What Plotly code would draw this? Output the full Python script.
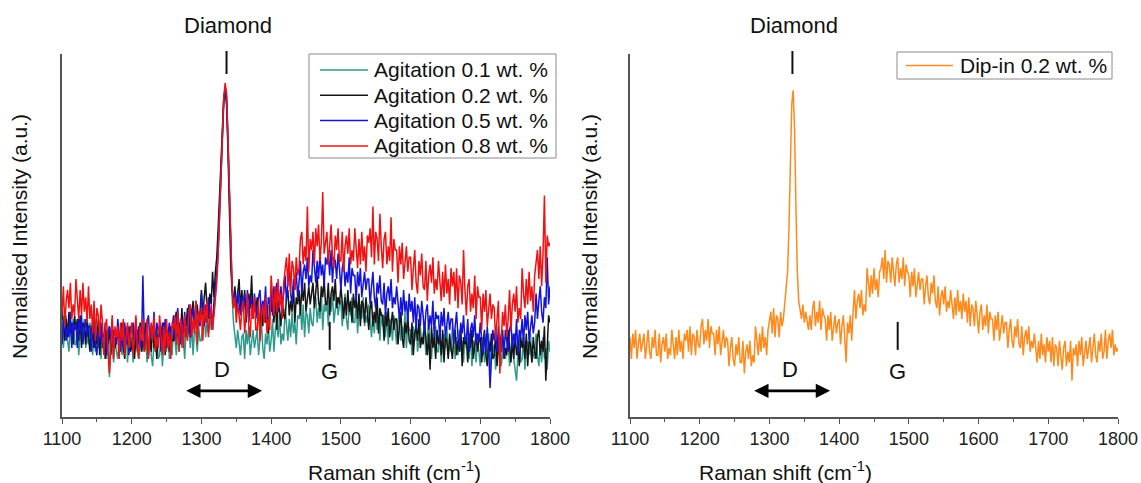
import plotly.graph_objects as go

# Raman shift grid (cm^-1), one reading every 2 cm^-1
wavenumber = list(range(1100, 1801, 2))

# Normalised intensities (a.u., 0-100 scale), films seeded by agitation
agit_01 = [
    26, 19, 24, 28, 21, 18, 25, 22, 27, 20,
    20, 26, 17, 23, 25, 21, 27, 19, 22, 20,
    26, 20, 17, 23, 18, 25, 19, 22, 16, 24,
    19, 22, 16, 23, 11, 21, 20, 15, 22, 18,
    16, 22, 24, 17, 21, 18, 25, 15, 22, 20,
    22, 15, 23, 19, 24, 16, 20, 23, 18, 21,
    22, 15, 20, 24, 17, 14, 21, 18, 23, 16,
    17, 23, 14, 20, 22, 18, 24, 16, 19, 17,
    26, 20, 17, 23, 18, 25, 19, 22, 16, 24,
    22, 25, 19, 26, 17, 24, 23, 18, 25, 21,
    21, 27, 29, 22, 26, 23, 30, 24, 27, 28,
    33, 38, 45, 55, 66, 77, 86, 91, 89, 78,
    62, 45, 33, 26, 22, 19, 24, 20, 17, 22,
    23, 16, 24, 20, 25, 17, 21, 24, 19, 22,
    24, 17, 22, 26, 19, 16, 23, 20, 25, 18,
    21, 27, 18, 24, 26, 22, 28, 20, 23, 21,
    30, 24, 21, 27, 22, 29, 23, 26, 20, 28,
    27, 30, 24, 31, 22, 29, 28, 23, 30, 26,
    25, 31, 33, 26, 30, 27, 34, 24, 31, 29,
    32, 25, 33, 29, 34, 26, 30, 33, 28, 31,
    32, 25, 30, 34, 27, 24, 31, 28, 33, 26,
    26, 32, 23, 29, 31, 27, 33, 25, 28, 26,
    31, 25, 22, 28, 23, 30, 24, 27, 21, 29,
    25, 28, 22, 29, 20, 27, 26, 21, 28, 24,
    20, 26, 28, 21, 25, 22, 29, 19, 26, 24,
    24, 17, 25, 21, 26, 18, 22, 25, 20, 23,
    24, 17, 22, 26, 19, 16, 23, 20, 25, 18,
    18, 24, 15, 21, 23, 19, 25, 17, 20, 18,
    25, 19, 16, 22, 17, 24, 18, 21, 15, 23,
    19, 22, 16, 23, 14, 21, 20, 15, 22, 18,
    14, 20, 22, 15, 19, 16, 23, 13, 20, 18,
    20, 13, 21, 17, 22, 14, 18, 21, 16, 19,
    21, 14, 19, 23, 16, 13, 10, 17, 22, 15,
    16, 22, 13, 19, 21, 17, 23, 15, 18, 16,
    23, 17, 14, 20, 15, 22, 16, 19, 13, 21,
    18,
]

agit_02 = [
    30, 24, 21, 27, 22, 29, 23, 26, 20, 28,
    24, 27, 21, 28, 19, 26, 25, 20, 27, 23,
    18, 24, 26, 19, 23, 20, 27, 17, 24, 22,
    23, 16, 24, 20, 25, 17, 21, 24, 19, 22,
    24, 17, 22, 26, 19, 16, 23, 20, 25, 18,
    19, 25, 16, 22, 24, 20, 26, 18, 21, 19,
    26, 20, 17, 23, 18, 25, 19, 22, 16, 24,
    22, 25, 19, 26, 17, 24, 23, 18, 25, 21,
    21, 27, 29, 22, 26, 23, 30, 20, 27, 25,
    30, 23, 31, 27, 32, 24, 28, 31, 26, 29,
    35, 28, 33, 37, 30, 27, 34, 31, 40, 33,
    40, 44, 52, 62, 73, 82, 88, 90, 86, 74,
    58, 42, 35, 31, 36, 29, 34, 38, 30, 35,
    29, 35, 26, 32, 34, 30, 39, 28, 31, 29,
    33, 27, 24, 30, 25, 32, 26, 29, 23, 31,
    29, 32, 26, 33, 24, 31, 30, 25, 32, 28,
    27, 33, 35, 28, 32, 29, 36, 26, 33, 31,
    35, 28, 36, 32, 37, 29, 33, 36, 31, 34,
    37, 30, 35, 39, 32, 29, 36, 33, 38, 31,
    31, 37, 28, 34, 36, 32, 38, 30, 33, 31,
    36, 30, 27, 33, 28, 35, 29, 32, 26, 34,
    30, 33, 27, 34, 25, 32, 31, 26, 33, 29,
    24, 30, 32, 25, 29, 26, 33, 23, 30, 28,
    28, 21, 29, 25, 30, 22, 26, 29, 24, 27,
    27, 20, 25, 29, 22, 19, 26, 23, 28, 21,
    20, 26, 17, 23, 25, 21, 27, 19, 22, 20,
    26, 20, 17, 23, 13, 25, 19, 22, 16, 24,
    20, 23, 17, 24, 15, 22, 21, 16, 23, 19,
    16, 22, 24, 17, 21, 18, 25, 14, 22, 20,
    22, 15, 23, 19, 24, 16, 20, 23, 18, 21,
    22, 15, 20, 24, 17, 14, 21, 18, 23, 16,
    17, 23, 14, 20, 22, 18, 24, 16, 19, 17,
    24, 18, 15, 21, 16, 23, 17, 20, 14, 22,
    19, 22, 16, 23, 14, 21, 20, 15, 22, 18,
    16, 22, 24, 17, 21, 18, 25, 10, 22, 28,
    26,
]

agit_05 = [
    20, 26, 28, 21, 25, 22, 29, 19, 26, 24,
    26, 19, 27, 23, 28, 20, 24, 27, 22, 25,
    25, 18, 23, 27, 20, 17, 24, 21, 26, 19,
    20, 26, 17, 23, 25, 21, 27, 19, 22, 20,
    27, 21, 18, 24, 19, 26, 20, 23, 17, 25,
    23, 26, 20, 27, 18, 25, 24, 19, 39, 22,
    20, 26, 28, 21, 25, 22, 29, 19, 26, 24,
    25, 18, 26, 22, 27, 19, 23, 26, 21, 24,
    28, 21, 26, 30, 23, 20, 27, 24, 29, 22,
    25, 31, 22, 28, 30, 26, 32, 24, 27, 25,
    34, 28, 25, 31, 26, 33, 27, 30, 24, 32,
    36, 40, 47, 57, 69, 79, 87, 91, 88, 76,
    60, 44, 36, 31, 34, 29, 35, 31, 28, 33,
    31, 34, 28, 35, 26, 33, 32, 27, 34, 30,
    27, 33, 35, 28, 32, 29, 36, 26, 33, 31,
    35, 28, 36, 32, 37, 29, 33, 36, 31, 34,
    39, 32, 37, 41, 34, 31, 38, 35, 40, 33,
    37, 43, 34, 40, 42, 38, 44, 36, 39, 37,
    46, 40, 37, 43, 38, 45, 39, 42, 36, 44,
    42, 45, 39, 46, 37, 44, 43, 38, 45, 41,
    35, 41, 43, 36, 40, 37, 44, 34, 41, 39,
    39, 32, 40, 36, 41, 33, 37, 40, 35, 38,
    38, 31, 36, 40, 33, 30, 37, 34, 39, 32,
    31, 37, 28, 34, 36, 32, 38, 30, 33, 31,
    36, 30, 27, 33, 28, 35, 29, 32, 26, 34,
    29, 32, 26, 33, 24, 31, 30, 25, 32, 28,
    23, 29, 31, 24, 28, 25, 32, 22, 29, 27,
    28, 21, 29, 25, 30, 22, 26, 29, 24, 27,
    27, 20, 25, 29, 22, 19, 26, 23, 28, 21,
    21, 27, 18, 24, 26, 22, 28, 20, 23, 21,
    26, 20, 17, 23, 18, 25, 19, 8, 16, 24,
    21, 24, 18, 25, 16, 23, 22, 17, 24, 20,
    18, 24, 26, 19, 23, 20, 27, 17, 24, 22,
    27, 20, 28, 24, 29, 21, 25, 28, 23, 26,
    34, 27, 32, 36, 29, 26, 33, 30, 44, 31,
    36,
]

agit_08 = [
    28, 36, 25, 32, 35, 30, 37, 27, 31, 28,
    38, 31, 27, 35, 28, 37, 29, 33, 26, 36,
    27, 31, 23, 32, 21, 30, 28, 22, 31, 26,
    17, 25, 27, 18, 12, 19, 28, 16, 25, 22,
    25, 16, 26, 21, 27, 17, 22, 26, 19, 23,
    26, 17, 23, 28, 19, 16, 25, 21, 27, 18,
    19, 27, 16, 23, 26, 21, 28, 18, 22, 19,
    28, 21, 17, 25, 18, 27, 19, 23, 16, 26,
    24, 28, 20, 29, 18, 27, 25, 19, 28, 23,
    21, 29, 31, 22, 27, 23, 32, 20, 29, 26,
    30, 21, 31, 26, 32, 22, 27, 31, 24, 28,
    32, 37, 45, 56, 68, 79, 88, 92, 89, 77,
    61, 45, 36, 30, 33, 26, 31, 28, 24, 30,
    32, 23, 29, 34, 25, 22, 31, 27, 33, 24,
    24, 32, 21, 28, 31, 26, 33, 23, 27, 24,
    39, 32, 28, 36, 29, 38, 30, 34, 27, 37,
    40, 44, 36, 45, 34, 43, 41, 35, 44, 39,
    41, 49, 51, 42, 47, 43, 58, 40, 49, 46,
    51, 42, 52, 47, 53, 43, 48, 62, 45, 49,
    51, 42, 48, 53, 44, 41, 50, 46, 52, 43,
    43, 51, 40, 47, 50, 45, 52, 42, 46, 43,
    52, 45, 41, 49, 42, 51, 43, 47, 40, 50,
    48, 52, 44, 58, 42, 51, 49, 43, 56, 47,
    41, 49, 51, 42, 47, 43, 55, 40, 49, 46,
    46, 37, 47, 42, 48, 38, 43, 47, 40, 44,
    44, 35, 41, 46, 37, 34, 43, 39, 45, 36,
    35, 43, 32, 39, 42, 37, 44, 34, 38, 35,
    43, 36, 32, 40, 33, 42, 34, 38, 31, 41,
    36, 40, 32, 41, 30, 39, 37, 31, 46, 35,
    28, 36, 38, 29, 34, 30, 39, 27, 36, 33,
    33, 24, 34, 29, 35, 25, 30, 34, 27, 31,
    30, 21, 27, 32, 12, 20, 29, 25, 31, 22,
    27, 35, 24, 31, 34, 29, 36, 26, 30, 27,
    41, 34, 30, 38, 31, 40, 32, 36, 29, 39,
    42, 46, 38, 47, 36, 45, 61, 37, 50, 47,
    48,
]

# Normalised intensity (a.u., 0-100 scale), film seeded by dip-in
dipin_02 = [
    22, 16, 23, 19, 24, 16, 20, 23, 18, 21,
    23, 16, 21, 24, 18, 16, 22, 19, 24, 17,
    17, 23, 15, 20, 22, 18, 23, 16, 19, 17,
    24, 19, 16, 22, 17, 24, 18, 21, 16, 23,
    21, 24, 18, 25, 17, 23, 22, 17, 24, 20,
    19, 25, 27, 20, 24, 21, 27, 19, 25, 23,
    23, 17, 24, 20, 25, 17, 21, 24, 19, 22,
    21, 14, 19, 22, 16, 14, 20, 17, 22, 15,
    15, 21, 12, 18, 20, 16, 21, 14, 17, 15,
    25, 20, 17, 23, 18, 25, 19, 22, 17, 24,
    26, 29, 23, 30, 22, 28, 27, 22, 29, 25,
    27, 31, 35, 40, 52, 70, 86, 90, 80, 58,
    40, 32, 30, 27, 31, 26, 29, 27, 24, 28,
    24, 30, 32, 25, 29, 26, 32, 24, 30, 28,
    27, 21, 28, 24, 29, 21, 25, 28, 23, 26,
    27, 20, 25, 28, 22, 15, 26, 23, 28, 21,
    29, 35, 27, 32, 34, 30, 35, 28, 31, 29,
    41, 36, 33, 39, 34, 41, 35, 38, 33, 40,
    41, 44, 38, 46, 37, 43, 42, 37, 44, 40,
    36, 42, 44, 37, 41, 38, 44, 36, 42, 40,
    39, 33, 40, 36, 41, 33, 37, 40, 35, 38,
    38, 31, 36, 39, 33, 31, 37, 34, 39, 32,
    30, 36, 28, 33, 35, 31, 36, 29, 32, 30,
    35, 30, 27, 33, 28, 35, 29, 32, 27, 34,
    29, 32, 26, 33, 25, 31, 30, 25, 32, 28,
    23, 29, 31, 24, 28, 25, 31, 23, 29, 27,
    27, 21, 28, 24, 29, 21, 25, 28, 23, 26,
    26, 19, 24, 27, 21, 19, 25, 22, 27, 20,
    19, 25, 17, 22, 24, 20, 25, 18, 21, 19,
    23, 18, 15, 21, 16, 23, 17, 20, 15, 22,
    18, 21, 15, 22, 14, 20, 19, 14, 21, 17,
    13, 19, 21, 14, 18, 15, 21, 10, 19, 17,
    20, 14, 21, 17, 22, 14, 18, 21, 16, 19,
    22, 15, 20, 23, 17, 15, 21, 18, 23, 16,
    18, 24, 16, 21, 23, 19, 24, 17, 20, 18,
    19,
]

agitation_series = [
    ("Agitation 0.1 wt. %", agit_01, "#2f9a8c"),
    ("Agitation 0.2 wt. %", agit_02, "#151515"),
    ("Agitation 0.5 wt. %", agit_05, "#1414d8"),
    ("Agitation 0.8 wt. %", agit_08, "#f01212"),
]
dipin_name = "Dip-in 0.2 wt. %"
dipin_color = "#ff8a1c"

x_ticks = list(range(1100, 1801, 100))
x_ticktext = [str(v) for v in x_ticks]

# Band positions (cm^-1) used for the labels
diamond_pos = 1336
g_band_pos = 1484
d_band_range = (1276, 1387)
d_label_pos = 1330

FONT = "Liberation Sans, Arial, Helvetica, sans-serif"
AXIS_COLOR = "#555555"
TEXT_COLOR = "#111111"
W, H = 1141, 483

fig = go.Figure()

for name, vals, color in agitation_series:
    fig.add_trace(go.Scatter(
        x=wavenumber[:len(vals)], y=vals, mode="lines", name=name,
        line=dict(color=color, width=1.5), xaxis="x", yaxis="y",
    ))

fig.add_trace(go.Scatter(
    x=wavenumber[:len(dipin_02)], y=dipin_02, mode="lines", name=dipin_name,
    line=dict(color=dipin_color, width=1.5), xaxis="x2", yaxis="y2",
))

y_dom = [66 / H, 429 / H]


def x_axis(domain, anchor):
    return dict(
        domain=domain, anchor=anchor, range=[1100, 1800], automargin=False,
        tickmode="array", tickvals=x_ticks, ticktext=x_ticktext,
        showline=True, linecolor=AXIS_COLOR, linewidth=1.5,
        ticks="outside", ticklen=5, tickwidth=1.2, tickcolor=AXIS_COLOR,
        minor=dict(tickmode="linear", tick0=1100, dtick=50, ticks="outside",
                   ticklen=3, tickwidth=1.2, tickcolor=AXIS_COLOR, showgrid=False),
        showgrid=False, zeroline=False,
        tickfont=dict(family=FONT, size=18, color="#222222"),
    )


def y_axis(anchor):
    return dict(
        domain=y_dom, anchor=anchor, range=[0, 100], automargin=False,
        showline=True, linecolor=AXIS_COLOR, linewidth=1.5,
        showticklabels=False, ticks="", showgrid=False, zeroline=False,
    )


fig.update_layout(
    width=W, height=H,
    margin=dict(l=0, r=0, t=0, b=0),
    paper_bgcolor="white", plot_bgcolor="white",
    xaxis=x_axis([62 / W, 550 / W], "y"),
    yaxis=y_axis("x"),
    xaxis2=x_axis([630 / W, 1118 / W], "y2"),
    yaxis2=y_axis("x2"),
    showlegend=False,
)

label_font = dict(family=FONT, size=22, color=TEXT_COLOR)
title_font = dict(family=FONT, size=21, color=TEXT_COLOR)
legend_font = dict(family=FONT, size=21, color=TEXT_COLOR)


def px_x(p):
    return p / W


def px_y(p):
    return 1 - p / H


shapes = []
annotations = []

# Band labels and axis titles for both panels
for xref, yref, diamond_x, x_center in (("x", "y", diamond_pos, 306),
                                        ("x2", "y2", diamond_pos - 3, 874)):
    shapes.append(dict(type="line", xref=xref, yref="paper",
                       x0=diamond_x, x1=diamond_x, y0=px_y(74), y1=px_y(51),
                       line=dict(color=TEXT_COLOR, width=2)))
    annotations.append(dict(text="Diamond", xref=xref, yref="paper",
                            x=diamond_x + 2, y=px_y(25), yanchor="middle",
                            showarrow=False, font=label_font))
    shapes.append(dict(type="line", xref=xref, yref=yref,
                       x0=g_band_pos, x1=g_band_pos, y0=18.5, y1=26.2,
                       line=dict(color=TEXT_COLOR, width=2)))
    annotations.append(dict(text="G", xref=xref, yref=yref, x=g_band_pos, y=12.5,
                            yanchor="middle", showarrow=False, font=label_font))
    annotations.append(dict(text="D", xref=xref, yref=yref, x=d_label_pos, y=13.0,
                            yanchor="middle", showarrow=False, font=label_font))
    annotations.append(dict(text="", xref=xref, yref=yref,
                            x=d_band_range[1], y=7.2,
                            axref=xref, ayref=yref, ax=d_band_range[0], ay=7.2,
                            showarrow=True, arrowside="end+start", arrowhead=2,
                            arrowsize=1.1, arrowwidth=2.6, arrowcolor="#000000",
                            standoff=0, startstandoff=0))
    annotations.append(dict(text="Raman shift (cm<sup>-1</sup>)", xref="paper", yref="paper",
                            x=px_x(x_center), y=px_y(471), yanchor="middle",
                            showarrow=False, font=title_font))

for x_px in (20, 590):
    annotations.append(dict(text="Normalised Intensity (a.u.)", xref="paper", yref="paper",
                            x=px_x(x_px), y=px_y(237), xanchor="center", yanchor="middle",
                            textangle=-90, showarrow=False, font=title_font))

# Legend boxes
shapes.append(dict(type="rect", xref="paper", yref="paper",
                   x0=px_x(309), x1=px_x(556), y0=px_y(158), y1=px_y(54),
                   line=dict(color="#8a8a8a", width=1), fillcolor="white", layer="above"))
for i, (name, _, color) in enumerate(agitation_series):
    row_y = 70 + 25.3 * i
    shapes.append(dict(type="line", xref="paper", yref="paper",
                       x0=px_x(320), x1=px_x(368), y0=px_y(row_y), y1=px_y(row_y),
                       line=dict(color=color, width=1.5), layer="above"))
    annotations.append(dict(text=name, xref="paper", yref="paper",
                            x=px_x(372), y=px_y(row_y), xanchor="left", yanchor="middle",
                            showarrow=False, font=legend_font))

shapes.append(dict(type="rect", xref="paper", yref="paper",
                   x0=px_x(897), x1=px_x(1112), y0=px_y(79), y1=px_y(52),
                   line=dict(color="#8a8a8a", width=1), fillcolor="white", layer="above"))
shapes.append(dict(type="line", xref="paper", yref="paper",
                   x0=px_x(906), x1=px_x(953), y0=px_y(65.5), y1=px_y(65.5),
                   line=dict(color=dipin_color, width=1.5), layer="above"))
annotations.append(dict(text=dipin_name, xref="paper", yref="paper",
                        x=px_x(958), y=px_y(65.5), xanchor="left", yanchor="middle",
                        showarrow=False, font=legend_font))

fig.update_layout(shapes=shapes, annotations=annotations)

fig.write_html("out.html")
